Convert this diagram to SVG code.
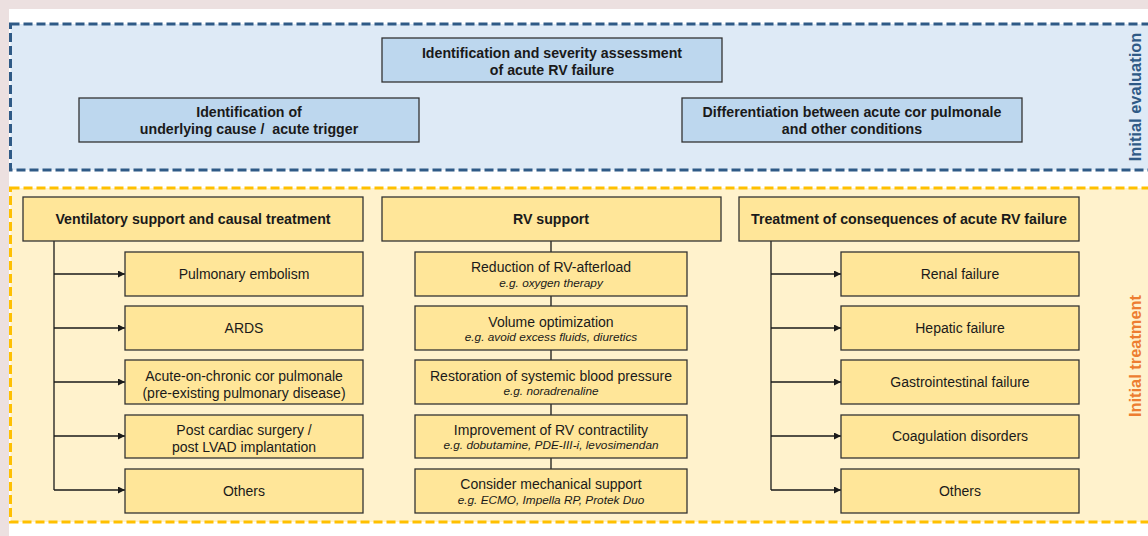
<svg xmlns="http://www.w3.org/2000/svg" width="1148" height="536" viewBox="0 0 1148 536">
<defs>
<style>
text{font-family:"Liberation Sans",Arial,sans-serif;fill:#1a1a1a;text-anchor:middle}
.b{font-weight:bold;font-size:14.2px}
.n{font-size:14px}
.i{font-style:italic;font-size:11.8px}
.bb{fill:#bdd7ee;stroke:#333;stroke-width:1.3}
.yb{fill:#ffe699;stroke:#333;stroke-width:1.3}
.ln{stroke:#1a1a1a;stroke-width:1.3;fill:none}
.side{font-weight:bold;font-size:16.4px}
</style>
<marker id="ah" viewBox="0 0 10 10" refX="10" refY="5" markerWidth="8" markerHeight="7" markerUnits="userSpaceOnUse" orient="auto">
<path d="M0,0 L10,5 L0,10 z" fill="#1a1a1a"/>
</marker>
</defs>
<rect x="0" y="0" width="1148" height="536" fill="#ece0e0"/>
<rect x="9" y="9" width="1139" height="527" fill="#ffffff"/>
<g id="eval-region">
<rect x="10.5" y="24" width="1150" height="146" fill="#deeaf6" stroke="#2f5a86" stroke-width="3" stroke-dasharray="9 4"/>
<text class="side" transform="translate(1141,97) rotate(-90)" style="fill:#2f5a86">Initial evaluation</text>
</g>
<g id="treat-region">
<rect x="10.5" y="188" width="1150" height="334" fill="#fff2cc" stroke="#ffc000" stroke-width="3" stroke-dasharray="9 4"/>
<text class="side" transform="translate(1141,356) rotate(-90)" style="fill:#ed7d31">Initial treatment</text>
</g>
<g id="connectors">
<path class="ln" d="M54,241 V490"/>
<path class="ln" d="M54,274 H125" marker-end="url(#ah)"/>
<path class="ln" d="M54,328 H125" marker-end="url(#ah)"/>
<path class="ln" d="M54,382 H125" marker-end="url(#ah)"/>
<path class="ln" d="M54,436 H125" marker-end="url(#ah)"/>
<path class="ln" d="M54,490 H125" marker-end="url(#ah)"/>
<path class="ln" d="M551,241 V252 M551,296 V306 M551,350 V360 M551,404 V415 M551,458 V469"/>
<path class="ln" d="M771,241 V490"/>
<path class="ln" d="M771,274 H841" marker-end="url(#ah)"/>
<path class="ln" d="M771,328 H841" marker-end="url(#ah)"/>
<path class="ln" d="M771,382 H841" marker-end="url(#ah)"/>
<path class="ln" d="M771,436 H841" marker-end="url(#ah)"/>
<path class="ln" d="M771,490 H841" marker-end="url(#ah)"/>
</g>
<g id="severity">
<rect class="bb" x="382" y="38" width="340" height="44"/>
<text class="b" x="552" y="58">Identification and severity assessment</text>
<text class="b" x="552" y="75">of acute RV failure</text>
</g>
<g id="cause">
<rect class="bb" x="79" y="98" width="340" height="44"/>
<text class="b" x="249" y="117">Identification of</text>
<text class="b" x="249" y="134" xml:space="preserve">underlying cause /  acute trigger</text>
</g>
<g id="differentiation">
<rect class="bb" x="682" y="98" width="340" height="44"/>
<text class="b" x="852" y="117">Differentiation between acute cor pulmonale</text>
<text class="b" x="852" y="134">and other conditions</text>
</g>
<g id="h-vent">
<rect class="yb" x="23" y="197" width="340" height="44"/>
<text class="b" x="193" y="224">Ventilatory support and causal treatment</text>
</g>
<g id="h-rv">
<rect class="yb" x="382" y="197" width="339" height="44"/>
<text class="b" x="551" y="224">RV support</text>
</g>
<g id="h-cons">
<rect class="yb" x="739" y="197" width="340" height="44"/>
<text class="b" x="909" y="224">Treatment of consequences of acute RV failure</text>
</g>
<g id="pe"><rect class="yb" x="125" y="252" width="238" height="44"/><text class="n" x="244" y="279">Pulmonary embolism</text></g>
<g id="ards"><rect class="yb" x="125" y="306" width="238" height="44"/><text class="n" x="244" y="333">ARDS</text></g>
<g id="aocp"><rect class="yb" x="125" y="360" width="238" height="44"/><text class="n" x="244" y="381">Acute-on-chronic cor pulmonale</text><text class="n" x="244" y="398">(pre-existing pulmonary disease)</text></g>
<g id="postcs"><rect class="yb" x="125" y="415" width="238" height="43"/><text class="n" x="244" y="435">Post cardiac surgery /</text><text class="n" x="244" y="452">post LVAD implantation</text></g>
<g id="others1"><rect class="yb" x="125" y="469" width="238" height="44"/><text class="n" x="244" y="496">Others</text></g>
<g id="afterload"><rect class="yb" x="415" y="252" width="272" height="44"/><text class="n" x="551" y="272">Reduction of RV-afterload</text><text class="i" x="551" y="287">e.g. oxygen therapy</text></g>
<g id="volume"><rect class="yb" x="415" y="306" width="272" height="44"/><text class="n" x="551" y="327">Volume optimization</text><text class="i" x="551" y="341">e.g. avoid excess fluids, diuretics</text></g>
<g id="bp"><rect class="yb" x="415" y="360" width="272" height="44"/><text class="n" x="551" y="381">Restoration of systemic blood pressure</text><text class="i" x="551" y="395">e.g. noradrenaline</text></g>
<g id="contract"><rect class="yb" x="415" y="415" width="272" height="43"/><text class="n" x="551" y="435">Improvement of RV contractility</text><text class="i" x="551" y="449">e.g. dobutamine, PDE-III-i, levosimendan</text></g>
<g id="mech"><rect class="yb" x="415" y="469" width="272" height="44"/><text class="n" x="551" y="489">Consider mechanical support</text><text class="i" x="551" y="504">e.g. ECMO, Impella RP, Protek Duo</text></g>
<g id="renal"><rect class="yb" x="841" y="252" width="238" height="44"/><text class="n" x="960" y="279">Renal failure</text></g>
<g id="hepatic"><rect class="yb" x="841" y="306" width="238" height="44"/><text class="n" x="960" y="333">Hepatic failure</text></g>
<g id="gi"><rect class="yb" x="841" y="360" width="238" height="44"/><text class="n" x="960" y="387">Gastrointestinal failure</text></g>
<g id="coag"><rect class="yb" x="841" y="415" width="238" height="43"/><text class="n" x="960" y="441">Coagulation disorders</text></g>
<g id="others2"><rect class="yb" x="841" y="469" width="238" height="44"/><text class="n" x="960" y="496">Others</text></g>
</svg>
